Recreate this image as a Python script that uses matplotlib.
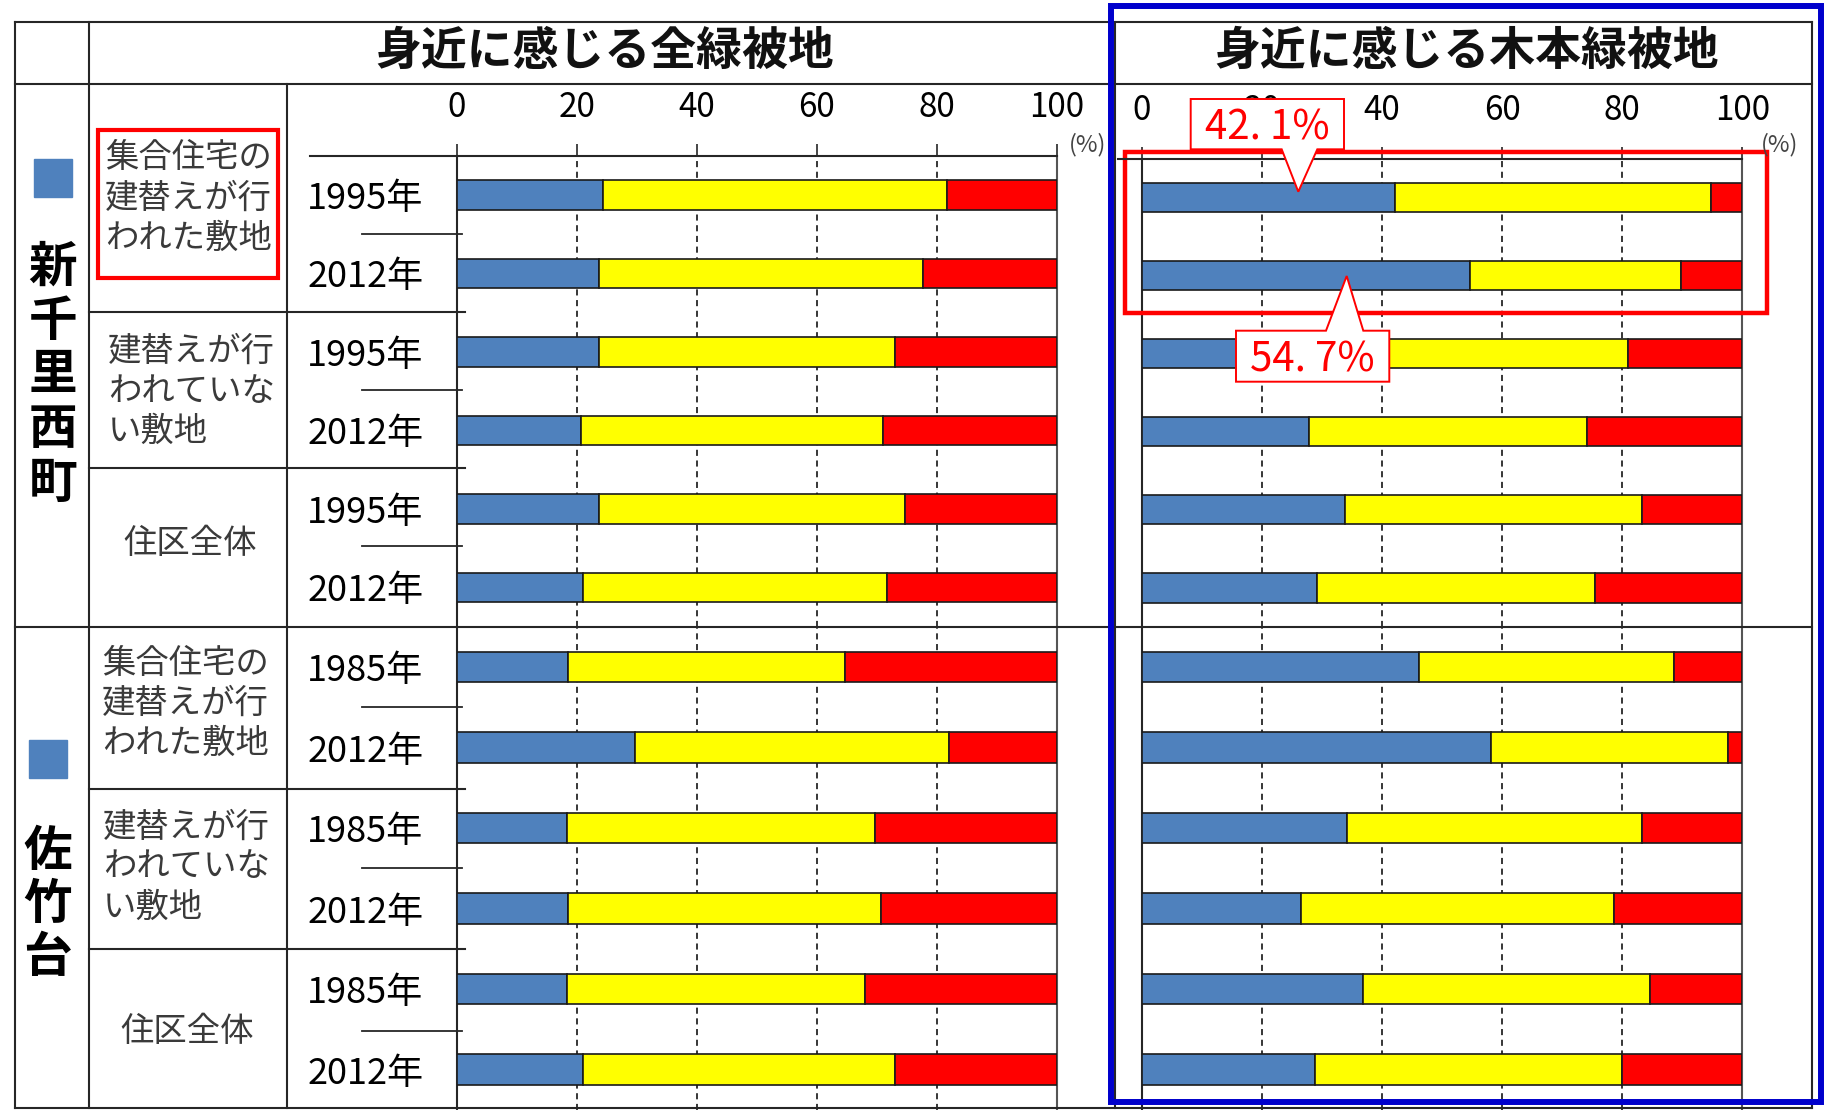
import numpy as np
import matplotlib
matplotlib.use('Agg')
import matplotlib.pyplot as plt
from matplotlib.patches import Rectangle, Polygon

plt.rcParams['font.family'] = ['Noto Sans CJK JP', 'DejaVu Sans']

# ---- data (rows top to bottom: 新千里西町 x6, 佐竹台 x6) ----
regions = ['新千里西町', '佐竹台']
groups = ['集合住宅の\n建替えが行\nわれた敷地', '建替えが行\nわれていな\nい敷地', '住区全体']
years_senri = ['1995年', '2012年', '1995年', '2012年', '1995年', '2012年']
years_satake = ['1985年', '2012年', '1985年', '2012年', '1985年', '2012年']
panel_titles = ['身近に感じる全緑被地', '身近に感じる木本緑被地']
xticks = [0, 20, 40, 60, 80, 100]

# 身近に感じる全緑被地
all_blue = [24.3, 23.7, 23.7, 20.7, 23.7, 21.0, 18.6, 29.7, 18.3, 18.6, 18.3, 21.0]
all_yellow = [57.4, 54.0, 49.3, 50.3, 51.0, 50.7, 46.1, 52.3, 51.4, 52.1, 49.7, 52.0]
all_red = [18.3, 22.3, 27.0, 29.0, 25.3, 28.3, 35.3, 18.0, 30.3, 29.3, 32.0, 27.0]

# 身近に感じる木本緑被地
tree_blue = [42.1, 54.7, 30.5, 27.8, 33.8, 29.2, 46.2, 58.1, 34.2, 26.5, 36.8, 28.8]
tree_yellow = [52.7, 35.1, 50.5, 46.4, 49.5, 46.2, 42.5, 39.6, 49.1, 52.1, 47.9, 51.2]
tree_red = [5.2, 10.2, 19.0, 25.8, 16.7, 24.6, 11.3, 2.3, 16.7, 21.4, 15.3, 20.0]

callouts = ['42. 1%', '54. 7%']

BLUE = '#4F81BD'
YELLOW = '#FFFF00'
RED = '#FF0000'
LINE = '#262626'

W, H = 1825, 1110
fig = plt.figure(figsize=(W / 100, H / 100), dpi=100)


def fig_rect(x0, y0, x1, y1):
    # pixel box (origin top-left) -> figure fraction
    return [x0 / W, 1 - y1 / H, (x1 - x0) / W, (y1 - y0) / H]


panels = [
    (456.7, 1056.7, 155.7, all_blue, all_yellow, all_red),
    (1141.7, 1742.3, 158.5, tree_blue, tree_yellow, tree_red),
]
region_y = [(None, 626.7), (626.7, 1110)]

for p, (x0, x1, ytop, blue, yellow, red) in enumerate(panels):
    for r in range(2):
        y0 = ytop if r == 0 else region_y[1][0]
        y1 = region_y[r][1]
        ax = fig.add_axes(fig_rect(x0, y0, x1, y1))
        sl = slice(r * 6, r * 6 + 6)
        b = np.array(blue[sl])
        yl = np.array(yellow[sl])
        rd = np.array(red[sl])
        y = np.arange(6)
        kw = dict(height=0.38, edgecolor='#1a1a1a', linewidth=1.2, zorder=3)
        ax.barh(y, b, color=BLUE, **kw)
        ax.barh(y, yl, left=b, color=YELLOW, **kw)
        ax.barh(y, rd, left=b + yl, color=RED, **kw)
        ax.set_xlim(0, 100)
        ax.set_ylim(5.5, -0.5)
        ax.set_xticks(xticks)
        ax.grid(axis='x', color='black', linestyle=(0, (4, 3)), linewidth=1.1)
        ax.set_axisbelow(True)
        for s in ['top', 'bottom']:
            ax.spines[s].set_visible(False)
        ax.spines['left'].set_color(LINE)
        ax.spines['left'].set_linewidth(1.5)
        ax.spines['right'].set_color('#555555')
        ax.spines['right'].set_linewidth(1.5)
        ax.set_yticks(y)
        if p == 0:
            ax.set_yticklabels(years_senri if r == 0 else years_satake, fontsize=26)
        else:
            ax.set_yticklabels([])
        ax.tick_params(axis='y', length=0, pad=24)
        if r == 0:
            ax.xaxis.set_ticks_position('top')
            ax.tick_params(axis='x', top=True, bottom=False, labeltop=True,
                           labelbottom=False, direction='out', length=9,
                           width=1.2, color=LINE, pad=13, labelsize=24)
        else:
            ax.tick_params(axis='x', top=False, bottom=False,
                           labeltop=False, labelbottom=False)

# ---- overlay: table lines, labels, annotations ----
ov = fig.add_axes([0, 0, 1, 1], zorder=5)
ov.set_xlim(0, W)
ov.set_ylim(H, 0)
ov.axis('off')
ov.patch.set_alpha(0)

lw = 1.5
for yy in [21.7, 84, 626.7, 1108]:
    ov.plot([15, 1812], [yy, yy], color=LINE, lw=lw)
for xx, ya in [(15, 21.7), (89.3, 21.7), (286.7, 84), (1115, 21.7), (1812, 21.7)]:
    ov.plot([xx, xx], [ya, 1108], color=LINE, lw=lw)
# plot top lines
ov.plot([310, 1056.7], [155.7, 155.7], color=LINE, lw=lw)
ov.plot([1118, 1742.3], [158.5, 158.5], color=LINE, lw=lw)
# group separators
for yy in [312, 468.3, 789, 949]:
    ov.plot([89.3, 465], [yy, yy], color=LINE, lw=lw)
# year separators
for yy in [234, 390, 545.7, 706.7, 868.3, 1030.7]:
    ov.plot([362, 462], [yy, yy], color=LINE, lw=1.3)

# panel titles
ov.text(605, 52, panel_titles[0], fontsize=33, fontweight='bold',
        ha='center', va='center', color='#111111')
ov.text(1467, 52, panel_titles[1], fontsize=33, fontweight='bold',
        ha='center', va='center', color='#111111')

# (%) labels
ov.text(1088, 145, '(%)', fontsize=17, ha='center', va='center', color='#444444')
ov.text(1780, 145, '(%)', fontsize=17, ha='center', va='center', color='#444444')

# region labels (vertical) with blue markers
ov.add_patch(Rectangle((34, 159), 38, 38, color=BLUE))
ov.add_patch(Rectangle((29, 740), 38, 38, color=BLUE))
for i, ch in enumerate(regions[0]):
    ov.text(53, 267 + i * 54, ch, fontsize=35, fontweight='bold',
            ha='center', va='center', color='black')
for i, ch in enumerate(regions[1]):
    ov.text(48, 851.7 + i * 53, ch, fontsize=35, fontweight='bold',
            ha='center', va='center', color='black')

# group labels
group_pos = [(105, 158), (108, 351.5), (190, 543),
             (102, 663), (103, 827), (187, 1031.7)]
for k, (gx, gy) in enumerate(group_pos):
    lines = groups[k % 3].split('\n')
    if len(lines) == 1:
        ov.text(gx, gy, lines[0], fontsize=24, ha='center', va='center',
                color='#3a3a3a')
    else:
        for j, ln in enumerate(lines):
            ov.text(gx, gy + j * 40, ln, fontsize=24, ha='left', va='center',
                    color='#3a3a3a')

# red highlight boxes
ov.add_patch(Rectangle((98, 130), 180, 148, fill=False, edgecolor=RED, lw=3))
ov.add_patch(Rectangle((1125, 151.7), 641.7, 161.6, fill=False, edgecolor=RED, lw=3.2))

# callouts
c1 = [(1190.7, 99), (1344, 99), (1344, 149.3), (1317.3, 149.3),
      (1298.3, 191.7), (1281.7, 149.3), (1190.7, 149.3)]
c2 = [(1236, 330.7), (1326, 330.7), (1346.7, 276), (1363.3, 330.7),
      (1389.3, 330.7), (1389.3, 381.7), (1236, 381.7)]
for poly in [c1, c2]:
    ov.add_patch(Polygon(poly, closed=True, facecolor='white',
                         edgecolor=RED, lw=1.4, zorder=6))
ov.text(1267, 128, callouts[0], fontsize=29, color=RED, ha='center',
        va='center', zorder=7)
ov.text(1312, 360, callouts[1], fontsize=29, color=RED, ha='center',
        va='center', zorder=7)

# blue frame around the right panel
ov.add_patch(Rectangle((1111, 6), 710, 1096, fill=False, edgecolor='#0000CC',
                       lw=4.3, zorder=8))

fig.savefig('out.png', dpi=100)
